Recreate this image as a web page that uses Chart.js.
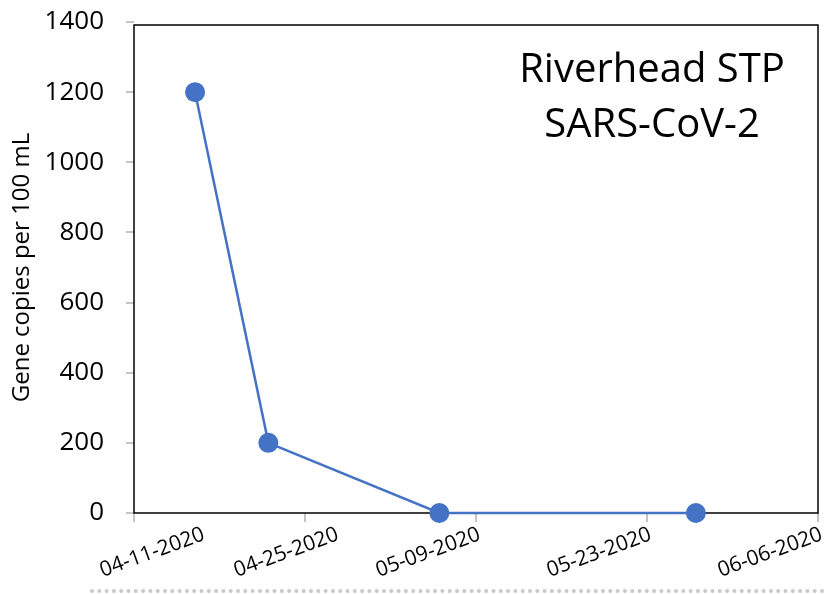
<!DOCTYPE html>
<html>
<head>
<meta charset="utf-8">
<script src="https://cdn.jsdelivr.net/npm/chart.js@4.4.1/dist/chart.umd.min.js"></script>
<style>
  html, body { margin: 0; padding: 0; background: #fff; }
  #wrap { width: 828px; height: 594px; }
</style>
</head>
<body>
<div id="wrap"><canvas id="chart" width="828" height="594"></canvas></div>
<script>
// sampling dates and measured values
const sampleDates = ['2020-04-16', '2020-04-22', '2020-05-06', '2020-05-27'];
const geneCopies = [1200, 200, 0, 0];
const xTickLabels = ['04-11-2020', '04-25-2020', '05-09-2020', '05-23-2020', '06-06-2020'];
const yMax = 1400;
const yStep = 200;
const chartTitle = ['Riverhead STP', 'SARS-CoV-2'];
const yAxisTitle = 'Gene copies per 100 mL';

const DAY_STEP = 14;
const startDay = Date.UTC(2020, 3, 11);
function dayOffset(s) {
  const [y, m, d] = s.split('-').map(Number);
  return Math.round((Date.UTC(y, m - 1, d) - startDay) / 86400000);
}
const points = sampleDates.map((d, i) => ({ x: dayOffset(d), y: geneCopies[i] }));

const FONT = "'Open Sans', 'Liberation Sans', sans-serif";
const BLUE = '#4472c4';

// plot frame (drawn under the line so the markers sit on top)
const framePlugin = {
  id: 'frame',
  beforeDatasetsDraw(chart) {
    const { ctx, chartArea: a } = chart;
    ctx.save();
    ctx.strokeStyle = '#000';
    ctx.lineWidth = 1.5;
    ctx.strokeRect(a.left, a.top + 3, a.right - a.left, a.bottom - a.top - 3);
    ctx.restore();
  }
};

// title inside the plot, rotated x labels and the dotted rule at the bottom
const extrasPlugin = {
  id: 'extras',
  afterDraw(chart) {
    const { ctx } = chart;
    const xs = chart.scales.x;
    ctx.save();

    ctx.fillStyle = '#000';
    ctx.font = '40px ' + FONT;
    ctx.textAlign = 'center';
    ctx.textBaseline = 'alphabetic';
    ctx.fillText(chartTitle[0], 652, 82);
    ctx.fillText(chartTitle[1], 652, 137);

    // x labels: right end at the tick, pushed right if they would run off the left or overlap
    const ang = 20 * Math.PI / 180;
    ctx.font = '21px ' + FONT;
    ctx.textAlign = 'right';
    ctx.textBaseline = 'top';
    ctx.fillStyle = '#000';
    let prevRight = -Infinity;
    xTickLabels.forEach((lab, i) => {
      const w = ctx.measureText(lab).width;
      const ext = w * Math.cos(ang) + 15 * Math.sin(ang);
      let endX = xs.getPixelForValue(i * DAY_STEP);
      let left = endX - ext;
      left = Math.max(left, 92, prevRight + 26);
      endX = left + ext;
      prevRight = endX;
      ctx.save();
      ctx.translate(endX, 524);
      ctx.rotate(-ang);
      ctx.fillText(lab, 0, 0);
      ctx.restore();
    });

    ctx.strokeStyle = '#c9c9c9';
    ctx.lineWidth = 4;
    ctx.lineCap = 'round';
    ctx.setLineDash([0, 7.3]);
    ctx.beginPath();
    ctx.moveTo(92, 591);
    ctx.lineTo(828, 591);
    ctx.stroke();
    ctx.restore();
  }
};

new Chart(document.getElementById('chart'), {
  type: 'line',
  data: {
    datasets: [{
      data: points,
      borderColor: BLUE,
      backgroundColor: BLUE,
      borderWidth: 2.5,
      pointRadius: 10,
      pointHoverRadius: 10,
      pointBorderWidth: 0,
      pointBackgroundColor: BLUE,
      tension: 0,
      clip: false
    }]
  },
  options: {
    responsive: false,
    animation: false,
    layout: { padding: { top: 22, right: 7, left: 0, bottom: 0 } },
    plugins: {
      legend: { display: false },
      tooltip: { enabled: false }
    },
    scales: {
      x: {
        type: 'linear',
        min: 0,
        max: (xTickLabels.length - 1) * DAY_STEP,
        border: { display: false },
        grid: { drawOnChartArea: false, drawTicks: true, tickLength: 9, color: '#c4c4c4', lineWidth: 2 },
        ticks: { display: false, stepSize: DAY_STEP },
        afterFit(s) { s.height = 81; s.paddingLeft = 0; s.paddingRight = 0; }
      },
      y: {
        min: 0,
        max: yMax,
        border: { display: false },
        grid: { drawOnChartArea: false, drawTicks: true, tickLength: 8, color: '#c4c4c4', lineWidth: 2 },
        ticks: {
          stepSize: yStep,
          padding: 22,
          color: '#000',
          font: { family: FONT, size: 26 },
          callback: v => String(v)
        },
        title: {
          display: true,
          text: yAxisTitle,
          color: '#000',
          font: { family: FONT, size: 24 },
          padding: { top: 8, bottom: 0 }
        },
        afterFit(s) { s.width = 134; s.paddingTop = 0; s.paddingBottom = 0; }
      }
    }
  },
  plugins: [framePlugin, extrasPlugin]
});
</script>
</body>
</html>
